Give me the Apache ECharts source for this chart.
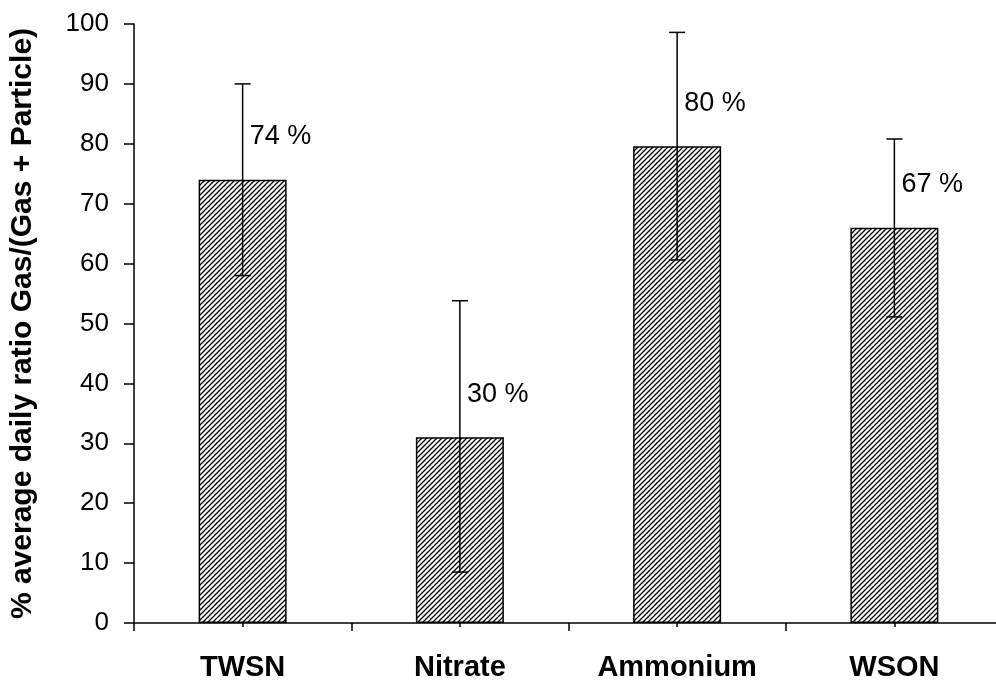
<!DOCTYPE html>
<html>
<head>
<meta charset="utf-8">
<script src="https://cdn.jsdelivr.net/npm/echarts@6/dist/echarts.min.js"></script>
<style>html,body{margin:0;padding:0;background:#fff;overflow:hidden;}#c{width:1003px;height:686px;}</style>
</head>
<body>
<div id="c"></div>
<script>
var categories = ['TWSN', 'Nitrate', 'Ammonium', 'WSON'];
var values = [74, 31, 79.6, 66];
var errLow = [58, 8.5, 60.6, 51.1];
var errHigh = [90, 53.8, 98.6, 80.8];
var valueLabels = ['74 %', '30 %', '80 %', '67 %'];
var yTicks = [0, 10, 20, 30, 40, 50, 60, 70, 80, 90, 100];

var FONT = '"Liberation Sans", Arial, sans-serif';

// hatch pattern
var pc = document.createElement('canvas');
pc.width = 5; pc.height = 5;
var g = pc.getContext('2d');
g.fillStyle = '#fff'; g.fillRect(0, 0, 5, 5);
g.strokeStyle = '#000'; g.lineWidth = 1.3;
g.beginPath();
g.moveTo(-1, 6); g.lineTo(6, -1);
g.moveTo(-1, 1); g.lineTo(1, -1);
g.moveTo(4, 6); g.lineTo(6, 4);
g.stroke();

var chart = echarts.init(document.getElementById('c'));
var errData = categories.map(function (c, i) { return [i, values[i], errLow[i], errHigh[i]]; });

chart.setOption({
  backgroundColor: '#fff',
  animation: false,
  grid: { left: 131, top: 24, right: 0, height: 599 },
  xAxis: [{
    type: 'category', data: categories, boundaryGap: true,
    axisLine: { lineStyle: { color: '#000', width: 1.5 } },
    axisTick: { show: true, length: 8, lineStyle: { color: '#000', width: 1.5 } },
    axisLabel: { margin: 30, color: '#000', fontSize: 29, fontWeight: 'bold', fontFamily: FONT }
  }, {
    type: 'category', data: categories, position: 'bottom', gridIndex: 0,
    axisLine: { show: false },
    axisTick: { show: true, alignWithLabel: true, length: 4, lineStyle: { color: '#000', width: 1.5 } },
    axisLabel: { show: false }
  }],
  yAxis: {
    type: 'value', min: 0, max: 100, interval: 10,
    name: '% average daily ratio Gas/(Gas + Particle)',
    nameLocation: 'middle', nameGap: 96,
    nameTextStyle: { color: '#000', fontSize: 30, fontWeight: 'bold', fontFamily: FONT },
    axisLine: { show: true, lineStyle: { color: '#000', width: 1.5 } },
    axisTick: { show: true, length: 10, lineStyle: { color: '#000', width: 1.5 } },
    splitLine: { show: false },
    axisLabel: { margin: 25, color: '#000', fontSize: 26, fontFamily: FONT,
      formatter: function (v) { return yTicks.indexOf(v) >= 0 ? String(v) : ''; } }
  },
  series: [{
    type: 'bar', data: values, barWidth: 88,
    itemStyle: { color: { image: pc, repeat: 'repeat' }, borderColor: '#000', borderWidth: 1.5 }
  }, {
    type: 'custom', data: errData,
    encode: { x: 0, y: [1, 2, 3] },
    z: 5,
    renderItem: function (params, api) {
      var i = api.value(0);
      var top = api.coord([i, api.value(3)]);
      var bot = api.coord([i, api.value(2)]);
      var bar = api.coord([i, api.value(1)]);
      var x = top[0];
      var st = { stroke: '#000', lineWidth: 1.5 };
      return { type: 'group', children: [
        { type: 'line', shape: { x1: x, y1: top[1], x2: x, y2: bot[1] }, style: st },
        { type: 'line', shape: { x1: x - 8, y1: top[1], x2: x + 8, y2: top[1] }, style: st },
        { type: 'line', shape: { x1: x - 8, y1: bot[1], x2: x + 8, y2: bot[1] }, style: st },
        { type: 'text', x: x + 7, y: bar[1] - 43, style: { text: valueLabels[params.dataIndex], fill: '#000',
          font: '27px ' + FONT, textAlign: 'left', textVerticalAlign: 'middle' } }
      ] };
    }
  }]
});
</script>
</body>
</html>
